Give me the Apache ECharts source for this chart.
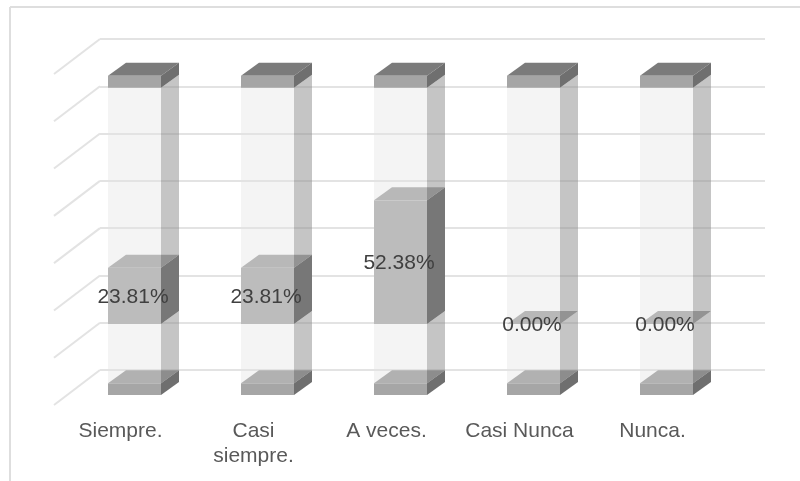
<!DOCTYPE html>
<html><head><meta charset="utf-8">
<style>html,body{margin:0;padding:0;background:#fff}#c{width:800px;height:481px}</style>
<script src="https://cdn.jsdelivr.net/npm/echarts@6/dist/echarts.min.js"></script>
</head><body><div id="c"></div>
<script>
// Data
const categories = ['Siempre.', 'Casi\nsiempre.', 'A veces.', 'Casi Nunca', 'Nunca.'];
const percentValues = [23.81, 23.81, 52.38, 0, 0];
const axisTicks = [0, 20, 40, 60, 80, 100, 120, 140];
const baseHeights = [5, 5, 5, 5, 5];
const lowerGhost = [25, 25, 25, 25, 25];
const capHeights = [5, 5, 5, 5, 5];
const trackTotal = 100;

const FRONT_DX = -32, FRONT_DY = 25, DEPTH_X = 18, DEPTH_Y = -13, BAR_W = 53;
const WALL_DX = -46, WALL_DY = 35;

function block(name, lows, highs, c) {
  return {
    name, type: 'custom', coordinateSystem: 'cartesian2d', clip: false, silent: true,
    encode: { x: 0, y: [1, 2] },
    data: lows.map((l, i) => [i, l, highs[i]]),
    z: c.z,
    renderItem(params, api) {
      const i = api.value(0);
      const p0 = api.coord([i, api.value(1)]), p1 = api.coord([i, api.value(2)]);
      const xl = p0[0] + FRONT_DX - BAR_W / 2, xr = xl + BAR_W;
      const yb = p0[1] + FRONT_DY, yt = p1[1] + FRONT_DY;
      const kids = [];
      const poly = (pts, fill) => kids.push({ type: 'polygon', shape: { points: pts }, style: { fill } });
      if (c.top) poly([[xl, yt], [xr, yt], [xr + DEPTH_X, yt + DEPTH_Y], [xl + DEPTH_X, yt + DEPTH_Y]], c.top);
      if (yb - yt > 0.01) {
        poly([[xr, yb], [xr + DEPTH_X, yb + DEPTH_Y], [xr + DEPTH_X, yt + DEPTH_Y], [xr, yt]], c.side);
        poly([[xl, yb], [xr, yb], [xr, yt], [xl, yt]], c.front);
      }
      return { type: 'group', children: kids };
    }
  };
}
const cum = (a, b) => a.map((v, i) => v + b[i]);
const s0 = baseHeights.map(() => 0);
const s1 = baseHeights;
const s2 = cum(s1, lowerGhost);
const s3 = cum(s2, percentValues);
const s4 = s2.map(v => v + trackTotal);
const s5 = cum(s4, capHeights);

const ghost = { front: 'rgba(228,228,228,0.40)', side: 'rgba(140,140,140,0.50)' };

const option = {
  animation: false,
  backgroundColor: '#fff',
  grid: { left: 100, right: 35, top: 39, bottom: 111, containLabel: false },
  xAxis: {
    type: 'category', data: categories,
    axisLine: { show: false }, axisTick: { show: false }, splitLine: { show: false },
    axisLabel: {
      margin: 49, fontSize: 21, color: '#595959', fontFamily: 'Liberation Sans',
      lineHeight: 25, padding: [0, 92, 0, 0], interval: 0, verticalAlign: 'top'
    }
  },
  yAxis: {
    type: 'value', min: 0, max: 140, interval: 20,
    axisLine: { show: false }, axisTick: { show: false }, axisLabel: { show: false },
    splitLine: { show: true, lineStyle: { color: '#e3e3e3', width: 2 } }
  },
  graphic: [
    { type: 'line', shape: { x1: 10, y1: 7, x2: 800, y2: 7 }, style: { stroke: '#dedede', lineWidth: 2 }, silent: true },
    { type: 'line', shape: { x1: 10, y1: 7, x2: 10, y2: 481 }, style: { stroke: '#dedede', lineWidth: 2 }, silent: true }
  ],
  series: [
    {
      type: 'custom', name: 'wall', coordinateSystem: 'cartesian2d', clip: false, silent: true, z: 1,
      encode: { y: 1 },
      data: axisTicks.map(t => [0, t]),
      renderItem(params, api) {
        const p = api.coord([0, api.value(1)]);
        const x = p[0] - api.size([1, 0])[0] / 2;
        return { type: 'line', shape: { x1: x, y1: p[1], x2: x + WALL_DX, y2: p[1] + WALL_DY },
                 style: { stroke: '#e3e3e3', lineWidth: 2, fill: null } };
      }
    },
    block('base', s0, s1, { front: '#a6a6a6', side: '#6f6f6f', top: '#8f8f8f', z: 2 }),
    block('ghostLower', s1, s2, { ...ghost, z: 3 }),
    block('data', s2, s3, { front: '#bcbcbc', side: '#777777', top: '#9b9b9b', z: 4 }),
    block('ghostUpper', s3, s4, { ...ghost, z: 5 }),
    block('cap', s4, s5, { front: '#a5a5a5', side: '#6f6f6f', top: '#7b7b7b', z: 6 }),
    {
      type: 'custom', name: 'labels', coordinateSystem: 'cartesian2d', clip: false, silent: true, z: 10,
      encode: { x: 0, y: [1, 2] },
      data: percentValues.map((v, i) => [i, s2[i], s3[i], v]),
      renderItem(params, api) {
        const i = api.value(0);
        const p0 = api.coord([i, api.value(1)]), p1 = api.coord([i, api.value(2)]);
        return { type: 'text', style: {
          x: p0[0] + FRONT_DX - 1.5, y: (p0[1] + p1[1]) / 2 + FRONT_DY + 1,
          text: api.value(3).toFixed(2) + '%', align: 'center', verticalAlign: 'middle',
          fontSize: 21, fontFamily: 'Liberation Sans', fill: '#404040' } };
      }
    }
  ]
};
echarts.init(document.getElementById('c'), null, { renderer: 'canvas' }).setOption(option);
</script></body></html>
